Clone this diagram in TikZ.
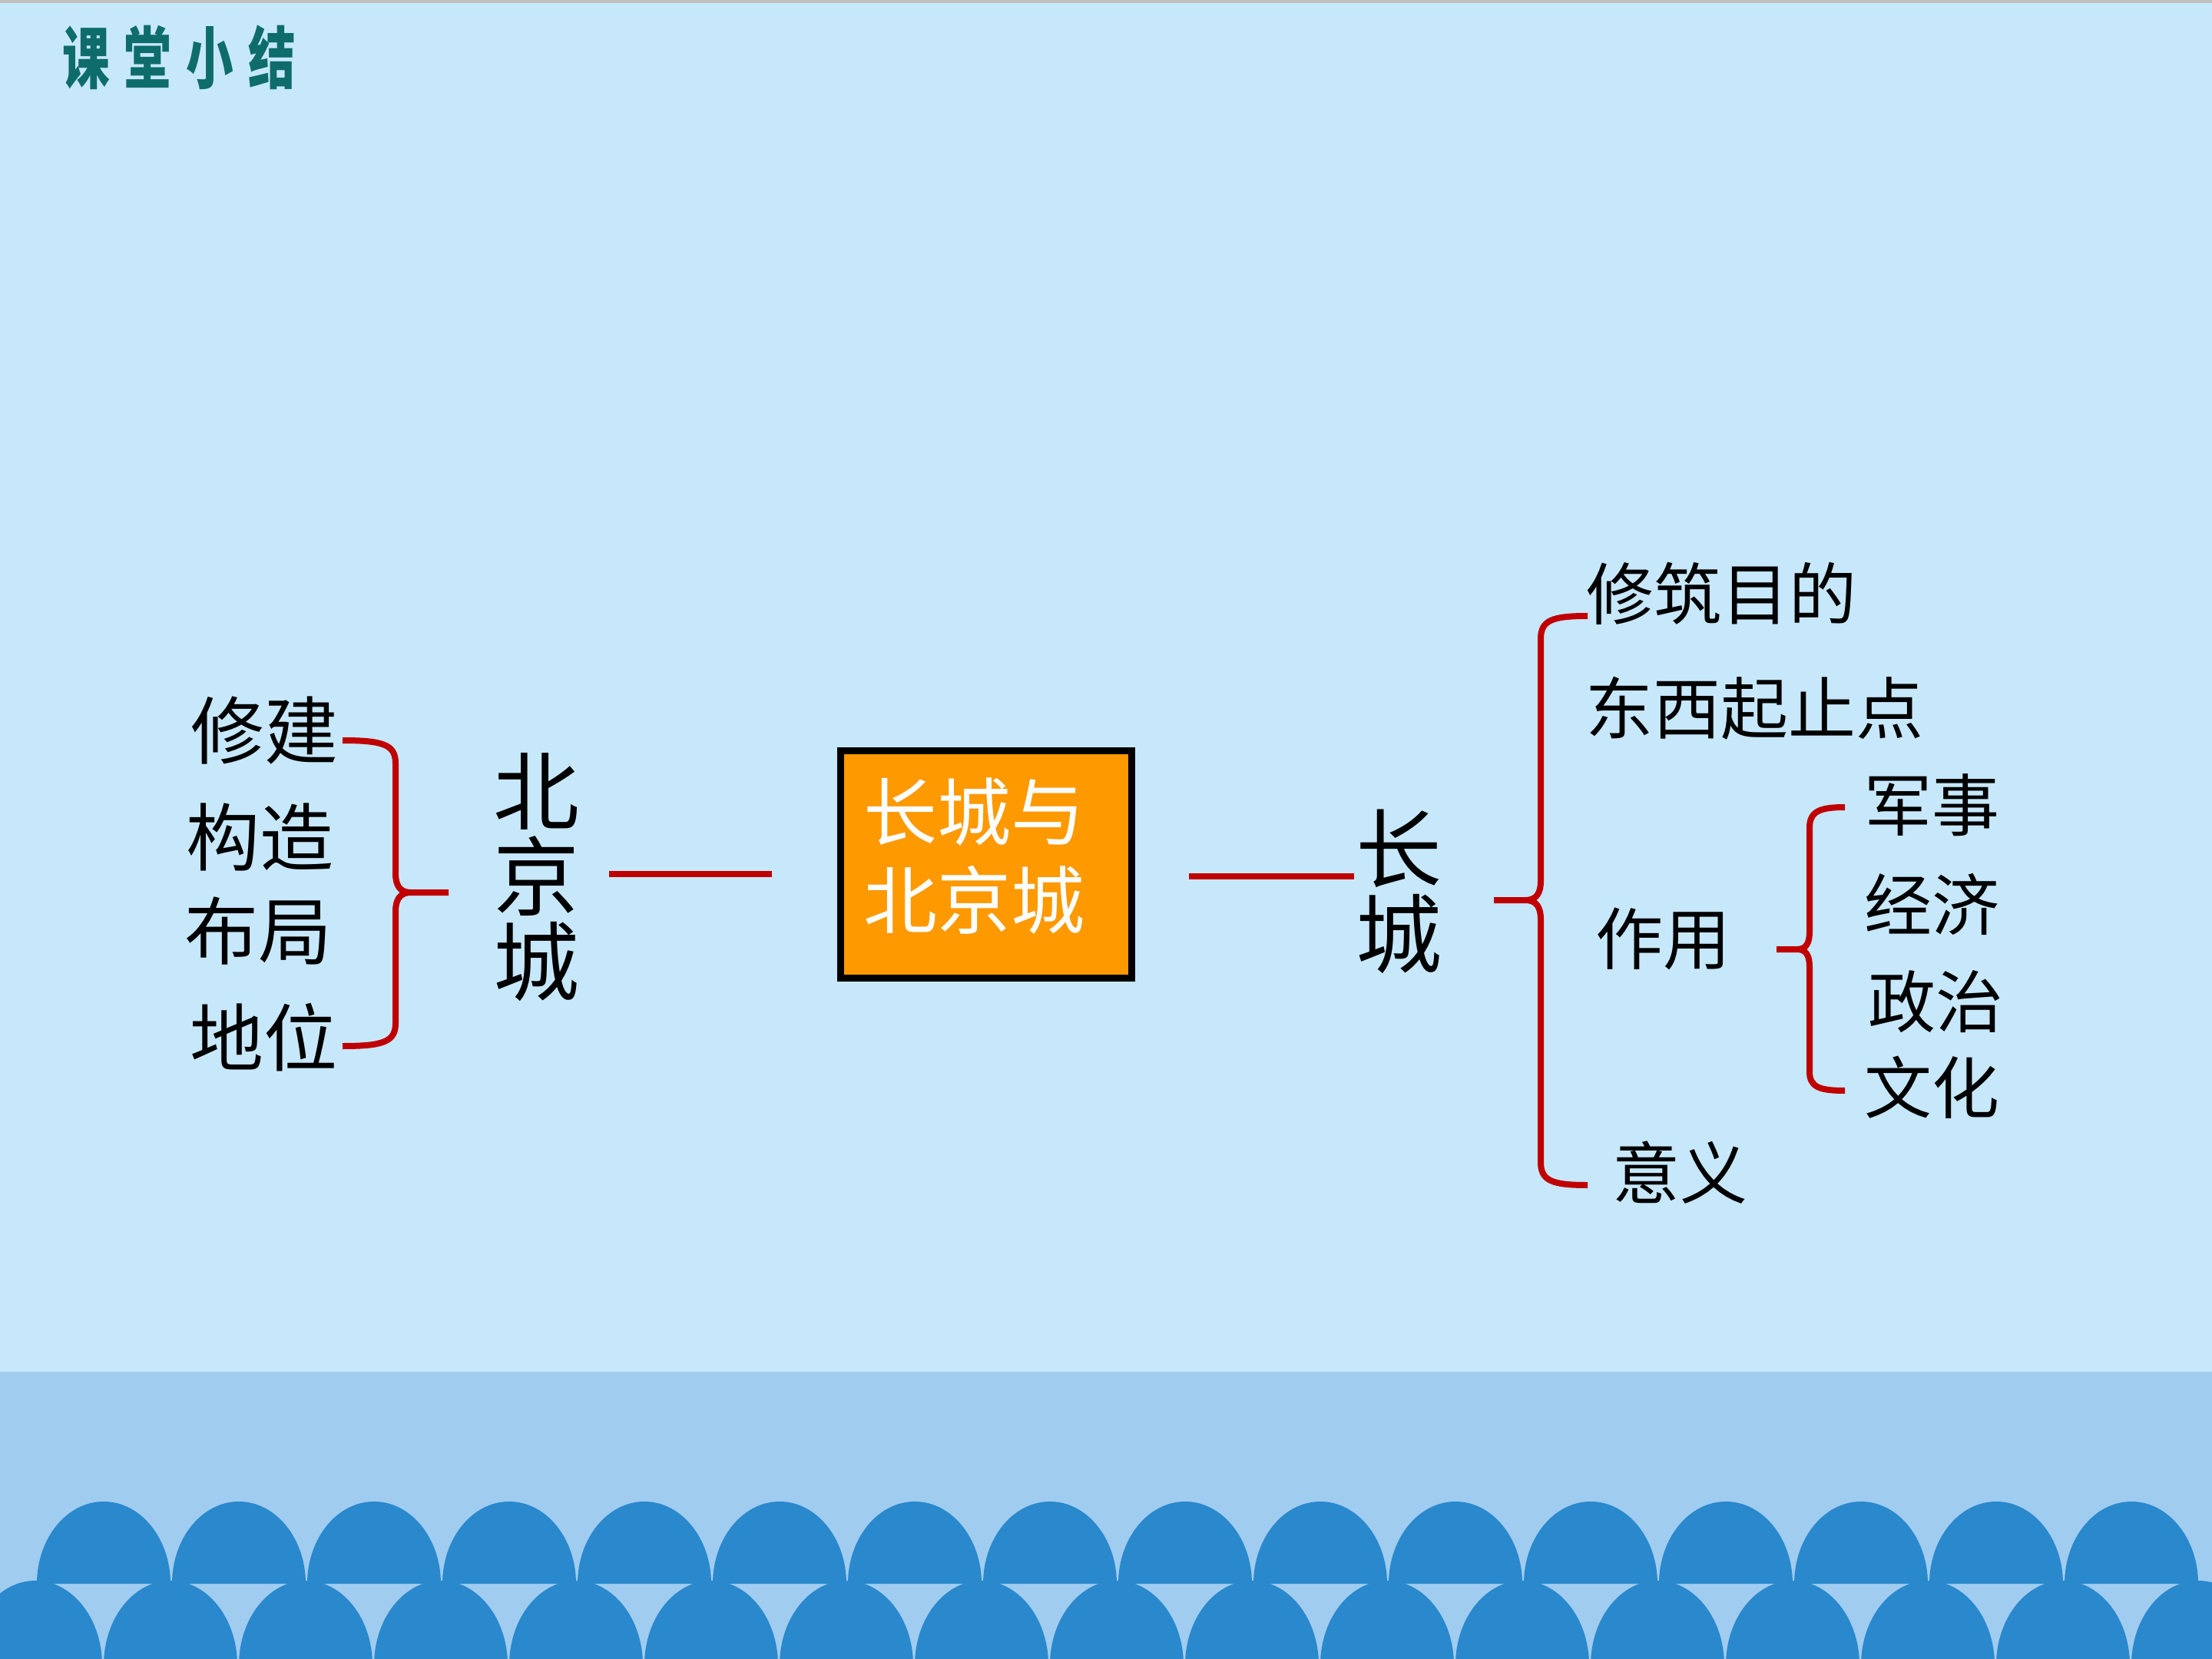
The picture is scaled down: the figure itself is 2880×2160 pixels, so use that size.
\documentclass[tikz,border=0pt]{standalone}
\usepackage{fontspec}
\setmainfont{Noto Sans CJK SC}
\newfontfamily\cjk{Noto Sans CJK SC}
\definecolor{bgblue}{RGB}{199,232,250}
\definecolor{bandblue}{RGB}{160,204,240}
\definecolor{humpblue}{RGB}{42,136,204}
\definecolor{topgrey}{RGB}{192,192,192}
\definecolor{bred}{RGB}{192,0,0}
\definecolor{titlecol}{RGB}{14,108,108}
\definecolor{boxor}{RGB}{255,153,0}
\begin{document}
\begin{tikzpicture}[x=0.25pt,y=-0.25pt,
  brace/.style={draw=bred, line width=2pt, line join=round},
  conn/.style={draw=bred, line width=2pt},
  lbl/.style={font=\cjk\fontsize{24pt}{24pt}\selectfont, inner sep=0pt},
  rlbl/.style={font=\cjk\fontsize{22pt}{22pt}\selectfont, inner sep=0pt},
  col/.style={font=\cjk\fontsize{28pt}{27.75pt}\selectfont, inner sep=0pt, align=center},
  hump/.style={fill=humpblue}
]
\useasboundingbox (0,0) rectangle (2880,2160);
\fill[bgblue] (0,0) rectangle (2880,2160);
\fill[topgrey] (0,0) rectangle (2880,4);
\fill[bandblue] (0,1786) rectangle (2880,2160);
\begin{scope}
\clip (0,0) rectangle (2880,2160);
\foreach \k in {0,...,16} {
  \fill[hump] ({46+176*\k-87},2168) arc[start angle=180,end angle=360,x radius=87,y radius=110] -- cycle;
}
\foreach \k in {0,...,15} {
  \fill[hump] ({135+176*\k-87},2062) arc[start angle=180,end angle=360,x radius=87,y radius=107] -- cycle;
}
\end{scope}

% title
\node[font=\cjk\bfseries\fontsize{22pt}{22pt}\selectfont, text=titlecol, xscale=0.7, inner sep=0pt] (title) at (233,75) {课\hspace{6.8pt}堂\hspace{6.8pt}小\hspace{6.8pt}结};

% left items
\node[lbl] (xj) at (344,951) {修建};
\node[lbl] (gz) at (338,1090) {构造};
\node[lbl] (bj) at (336,1212) {布局};
\node[lbl] (dw) at (343,1351) {地位};
\node[col] (bjc) at (698,1142) {北\\京\\城};

% left brace
\coordinate (lbT) at (446,964);
\coordinate (lbB) at (446,1362);
\coordinate (lbTip) at (584,1162);
\draw[brace] (lbT) .. controls (500,964) and (515,970) .. (515,994) -- (515,1137) .. controls (515,1152) and (520,1162) .. (535,1162) -- (lbTip);
\draw[brace] (535,1162) .. controls (520,1162) and (515,1172) .. (515,1187) -- (515,1332) .. controls (515,1356) and (500,1362) .. (lbB);

% centre box
\node[draw=black, fill=boxor, line width=2.25pt, minimum width=94.75pt, minimum height=74pt, inner sep=0pt, text width=80pt, align=left, text=white, font=\cjk\fontsize{24pt}{28.75pt}\selectfont] (box) at (1284,1125.5) {长城与\\北京城\rule[-7.5pt]{0pt}{0pt}};

% connectors
\coordinate (c1) at (793,1138);
\coordinate (c2) at (1005,1138);
\draw[conn] (c1) -- (c2);
\coordinate (c3) at (1548,1141);
\coordinate (c4) at (1763,1141);
\draw[conn] (c3) -- (c4);

\node[col] (cc) at (1821,1161) {长\\城};

% big right brace
\coordinate (rbT) at (2067,802);
\coordinate (rbB) at (2067,1543);
\coordinate (rbTip) at (1945,1172);
\draw[brace] (rbT) .. controls (2020,802) and (2006,808) .. (2006,832) -- (2006,1147) .. controls (2006,1162) and (2001,1172) .. (1986,1172) -- (rbTip);
\draw[brace] (1986,1172) .. controls (2001,1172) and (2006,1182) .. (2006,1197) -- (2006,1513) .. controls (2006,1537) and (2020,1543) .. (rbB);

% small right brace
\coordinate (sbT) at (2402,1051);
\coordinate (sbB) at (2402,1420);
\coordinate (sbTip) at (2313,1236);
\draw[brace] (sbT) .. controls (2368,1051) and (2356,1057) .. (2356,1078) -- (2356,1213) .. controls (2356,1227) and (2352,1236) .. (2340,1236) -- (sbTip);
\draw[brace] (2340,1236) .. controls (2352,1236) and (2356,1245) .. (2356,1259) -- (2356,1395) .. controls (2356,1415) and (2368,1420) .. (sbB);

% right items
\node[rlbl] (xzmd) at (2241,773) {修筑目的};
\node[rlbl] (dxqzd) at (2284,922) {东西起止点};
\node[rlbl] (zy) at (2165,1222) {作用};
\node[rlbl] (js) at (2515,1048) {军事};
\node[rlbl] (jj) at (2515,1177) {经济};
\node[rlbl] (zz) at (2520,1304) {政治};
\node[rlbl] (wh) at (2515,1416) {文化};
\node[rlbl] (yy) at (2187,1527) {意义};
\end{tikzpicture}
\end{document}
